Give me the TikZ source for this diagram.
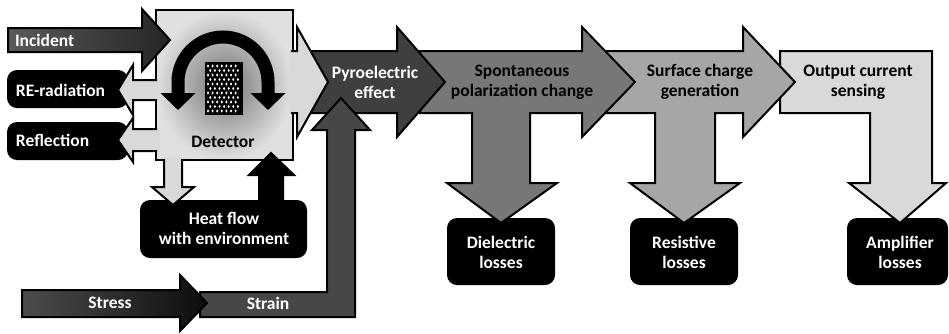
\documentclass[tikz,border=0pt]{standalone}
\usepackage{fontspec}
\setmainfont{Carlito}
\usetikzlibrary{arrows.meta}

\definecolor{pyrogray}{HTML}{3F3F3F}
\definecolor{spontgray}{HTML}{777777}
\definecolor{surfgray}{HTML}{A6A6A6}
\definecolor{lightgray}{HTML}{D9D9D9}
\definecolor{straingray}{HTML}{474747}

\begin{document}
\begin{tikzpicture}[x=1pt, y=-1pt, line width=2pt,
  blk/.style={draw=black, line width=2pt},
  lossbox/.style={fill=black, rounded corners=10pt, inner sep=0pt},
  lbl/.style={font=\bfseries\fontsize{17.5}{20}\selectfont, align=center, inner sep=0pt},
  wlbl/.style={lbl, text=white}]
\useasboundingbox (0,0) rectangle (949,333);

% black boxes
\node[lossbox, minimum width=121pt, minimum height=38pt] (reradbox) at (67.5,89) {};
\node[lossbox, minimum width=121pt, minimum height=38pt] (reflectbox) at (67.5,141) {};
\node[lossbox, minimum width=167pt, minimum height=58pt] (heatbox) at (223.5,229) {};
\node[lossbox, minimum width=108pt, minimum height=67pt] (dielbox) at (501,251.5) {};
\node[lossbox, minimum width=108pt, minimum height=67pt] (resistbox) at (684,251.5) {};
\node[lossbox, minimum width=101pt, minimum height=67pt] (ampbox) at (897.5,251.5) {};

% chain of block arrows
\draw[blk, fill=lightgray] (780,51) -- (932,51) -- (932,183) -- (946,183) -- (900,223)
  -- (849,183) -- (870,183) -- (870,113) -- (780,113) -- cycle;
\draw[blk, fill=surfgray] (595,51) -- (743,51) -- (743,27) -- (795,82) -- (743,137)
  -- (743,113) -- (715,113) -- (715,183) -- (740,183) -- (684,223) -- (630,183)
  -- (655,183) -- (655,113) -- (595,113) -- cycle;
\draw[blk, fill=spontgray] (420,51) -- (582,51) -- (582,27) -- (635,82) -- (582,137)
  -- (582,113) -- (530,113) -- (530,183) -- (557,183) -- (501,223) -- (447,183)
  -- (472,183) -- (472,113) -- (420,113) -- cycle;
\draw[blk, fill=pyrogray] (303,51) -- (397,51) -- (397,27) -- (445,82) -- (397,137)
  -- (397,113) -- (303,113) -- cycle;

% detector
\shade[inner color=black!55, outer color=black!12] (156,10) rectangle (293,160);
\draw[blk] (156,10) rectangle (293,160);
\fill[lightgray] (289,51) -- (297,51) -- (297,27) -- (328,82) -- (297,137) -- (297,113) -- (289,113) -- cycle;
\draw[blk] (291,51) -- (297,51) -- (297,27) -- (328,82) -- (297,137) -- (297,113) -- (291,113);
\fill[lightgray] (160,80) -- (133,80) -- (133,65) -- (118,90) -- (133,115) -- (133,100) -- (160,100) -- cycle;
\draw[blk] (157,80) -- (133,80) -- (133,65) -- (118,90) -- (133,115) -- (133,100) -- (157,100);
\fill[lightgray] (160,129) -- (133,129) -- (133,118) -- (118,140) -- (133,162) -- (133,151) -- (160,151) -- cycle;
\draw[blk] (157,129) -- (133,129) -- (133,118) -- (118,140) -- (133,162) -- (133,151) -- (157,151);
\fill[lightgray] (164,157) -- (164,187) -- (152,187) -- (173,205) -- (194,187) -- (182,187) -- (182,157) -- cycle;
\draw[blk] (164,159) -- (164,187) -- (152,187) -- (173,205) -- (194,187) -- (182,187) -- (182,159);
\draw[blk, fill=black] (259,200) -- (259,175) -- (249,175) -- (271,153) -- (294,175) -- (283,175) -- (283,200);

% sensing element
\fill[black] (205,62) rectangle (243,115);
\foreach \r in {0,...,10}
  \foreach \c in {0,...,6}
    \fill[white] ({208+4.6*\c+2.3*mod(\r,2)}, {66+4.5*\r}) ellipse (1.1pt and 1.6pt);
\draw[black, line width=13pt, {Triangle[length=17pt,width=34pt]}-{Triangle[length=17pt,width=34pt]}]
  (178,110) -- (178,82) arc[start angle=180, end angle=0, radius=45pt] -- (268,110);

% incident
\shade[left color=black!65, right color=black!85, draw=black, line width=2pt]
  (8,28) -- (142,28) -- (142,9) -- (170,40) -- (142,71) -- (142,52) -- (8,52) -- cycle;

% stress and strain
\draw[blk, fill=straingray] (200,292) -- (327,292) -- (327,130) -- (312,130) -- (341,98)
  -- (370,130) -- (355,130) -- (355,317) -- (200,317) -- cycle;
\shade[left color=black!70, right color=black!95, draw=black, line width=2pt]
  (22,290) -- (180,290) -- (180,275) -- (207,303) -- (180,331) -- (180,317) -- (22,317) -- cycle;

% labels
\node[wlbl, anchor=west] (incident) at (14,40) {Incident};
\node[wlbl, anchor=west] (rerad) at (15,90) {RE-radiation};
\node[wlbl, anchor=west] (reflect) at (15,140) {Reflection};
\node[lbl] (detector) at (223,142) {Detector};
\node[wlbl] (heat) at (224,228) {Heat flow\\with environment};
\node[wlbl] (pyro) at (375,82) {Pyroelectric\\effect};
\node[lbl] (spont) at (522,82) {Spontaneous\\polarization change};
\node[lbl] (surface) at (700,82) {Surface charge\\generation};
\node[lbl] (output) at (858,82) {Output current\\sensing};
\node[wlbl] (diel) at (501,252) {Dielectric\\losses};
\node[wlbl] (resist) at (684,252) {Resistive\\losses};
\node[wlbl] (amp) at (900,252) {Amplifier\\losses};
\node[wlbl] (stress) at (110,303) {Stress};
\node[wlbl] (strain) at (268,303) {Strain};
\end{tikzpicture}
\end{document}
